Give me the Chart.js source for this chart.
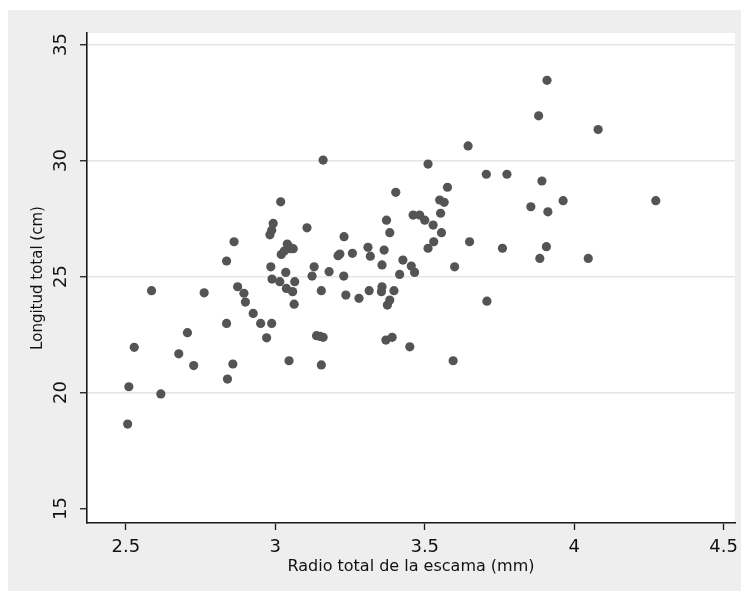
<!DOCTYPE html>
<html>
<head>
<meta charset="utf-8">
<script src="https://cdn.jsdelivr.net/npm/chart.js@4.4.1/dist/chart.umd.min.js"></script>
<style>
    html, body { margin: 0; padding: 0; background: #fff; }
    #wrap { width: 746px; height: 599px; }
</style>
</head>
<body>
<div id="wrap"><canvas id="scatter"></canvas></div>
<script>
/* Longitud total vs radio de la escama — Stata-style scatter */

const radio = [
    2.506, 2.510, 2.528, 2.586, 2.617, 2.677, 2.706, 2.727, 2.762, 2.837,
    2.837, 2.840, 2.858, 2.862, 2.874, 2.895, 2.900, 2.926, 2.951, 2.971,
    2.988, 2.985, 2.989, 2.982, 2.988, 2.993, 3.015, 3.018, 3.020, 3.030,
    3.035, 3.037, 3.040, 3.045, 3.046, 3.050, 3.058, 3.060, 3.063, 3.065,
    3.106, 3.123, 3.130, 3.138, 3.150, 3.154, 3.154, 3.160, 3.160, 3.180,
    3.210, 3.216, 3.229, 3.230, 3.236, 3.258, 3.280, 3.310, 3.314, 3.318,
    3.355, 3.357, 3.357, 3.364, 3.370, 3.372, 3.375, 3.383, 3.383, 3.391,
    3.397, 3.403, 3.416, 3.427, 3.450, 3.455, 3.461, 3.466, 3.483, 3.500,
    3.511, 3.511, 3.528, 3.530, 3.550, 3.553, 3.556, 3.565, 3.576, 3.595,
    3.600, 3.645, 3.650, 3.706, 3.708, 3.760, 3.775, 3.855, 3.881, 3.885,
    3.892, 3.907, 3.909, 3.912, 3.963, 4.047, 4.080, 4.273,
];

const longitud = [
    18.64, 20.25, 21.95, 24.39, 19.94, 21.67, 22.58, 21.16, 24.30, 25.67,
    22.98, 20.58, 21.23, 26.50, 24.56, 24.28, 23.90, 23.41, 22.98, 22.36,
    22.98, 25.42, 24.89, 26.80, 27.00, 27.29, 24.78, 28.22, 25.95, 26.10,
    25.18, 24.49, 26.40, 26.30, 21.37, 26.20, 24.35, 26.20, 23.81, 24.78,
    27.10, 25.02, 25.42, 22.45, 22.42, 24.39, 21.19, 22.38, 30.02, 25.21,
    25.90, 25.97, 25.02, 26.72, 24.20, 26.00, 24.06, 26.26, 24.39, 25.88,
    24.35, 24.56, 25.50, 26.14, 22.26, 27.43, 23.77, 23.99, 26.89, 22.38,
    24.39, 28.63, 25.09, 25.71, 21.97, 25.45, 27.65, 25.18, 27.65, 27.43,
    26.22, 29.85, 27.22, 26.50, 28.30, 27.73, 26.89, 28.20, 28.85, 21.37,
    25.42, 30.63, 26.50, 29.41, 23.94, 26.22, 29.41, 28.01, 31.93, 25.78,
    29.12, 26.29, 33.46, 27.79, 28.27, 25.78, 31.34, 28.27,
];

const xTicks = [2.5, 3, 3.5, 4, 4.5];
const yTicks = [15, 20, 25, 30, 35];

const COLORS = {
    marker: '#545454',
    panel: '#eeeeee',
    plot: '#ffffff',
    grid: '#e6e6e6',
    axis: '#1a1a1a',
    text: '#111111',
};

const TICK_FONT = { family: "'DejaVu Sans', sans-serif", size: 18 };
const XTITLE_FONT = { family: "'DejaVu Sans', sans-serif", size: 16 };
const YTITLE_FONT = { family: "'DejaVu Sans', sans-serif", size: 15 };

// grey outer panel + white plot region
const backdrop = {
    id: 'backdrop',
    beforeDraw(chart) {
        const { ctx, chartArea: a } = chart;
        ctx.save();
        ctx.fillStyle = '#ffffff';
        ctx.fillRect(0, 0, chart.width, chart.height);
        ctx.fillStyle = COLORS.panel;
        ctx.fillRect(8, 10, 733, 581);
        ctx.fillStyle = COLORS.plot;
        ctx.fillRect(a.left, a.top, a.right - a.left, a.bottom - a.top);
        ctx.restore();
    },
};

const points = radio.map((x, i) => ({ x: x, y: longitud[i] }));

new Chart(document.getElementById('scatter'), {
    type: 'scatter',
    data: {
        datasets: [{
            data: points,
            backgroundColor: COLORS.marker,
            borderWidth: 0,
            pointRadius: 4.6,
            pointStyle: 'circle',
        }],
    },
    options: {
        responsive: true,
        maintainAspectRatio: false,
        animation: false,
        layout: { padding: { left: 0, top: 33, right: 11, bottom: 0 } },
        scales: {
            x: {
                type: 'linear',
                min: 2.37,
                max: 4.538,
                afterFit: s => { s.height = 76; },
                afterBuildTicks: s => { s.ticks = xTicks.map(v => ({ value: v })); },
                border: { color: COLORS.axis, width: 1.6 },
                grid: {
                    drawOnChartArea: false,
                    tickLength: 7,
                    tickColor: COLORS.axis,
                    tickWidth: 1.3,
                },
                ticks: {
                    font: TICK_FONT,
                    color: COLORS.text,
                    padding: 7,
                    maxRotation: 0,
                    callback: v => String(v),
                },
                title: {
                    display: true,
                    text: 'Radio total de la escama (mm)',
                    font: XTITLE_FONT,
                    color: COLORS.text,
                    padding: { top: 0, bottom: 23 },
                },
            },
            y: {
                type: 'linear',
                min: 14.375,
                max: 35.5,
                afterFit: s => { s.width = 87; },
                afterBuildTicks: s => { s.ticks = yTicks.map(v => ({ value: v })); },
                border: { color: COLORS.axis, width: 1.6 },
                grid: {
                    color: ctx => (ctx.tick && ctx.tick.value === 15) ? 'rgba(0,0,0,0)' : COLORS.grid,
                    lineWidth: 1.5,
                    tickLength: 7,
                    tickColor: COLORS.axis,
                    tickWidth: 1.3,
                },
                ticks: {
                    font: TICK_FONT,
                    color: COLORS.text,
                    minRotation: 90,
                    maxRotation: 90,
                    crossAlign: 'center',
                    padding: 7,
                    callback: v => String(v),
                },
                title: {
                    display: true,
                    text: 'Longitud total (cm)',
                    font: YTITLE_FONT,
                    color: COLORS.text,
                    padding: { top: 29, bottom: 0 },
                },
            },
        },
        plugins: {
            legend: { display: false },
            tooltip: { enabled: false },
        },
    },
    plugins: [backdrop],
});
</script>
</body>
</html>
